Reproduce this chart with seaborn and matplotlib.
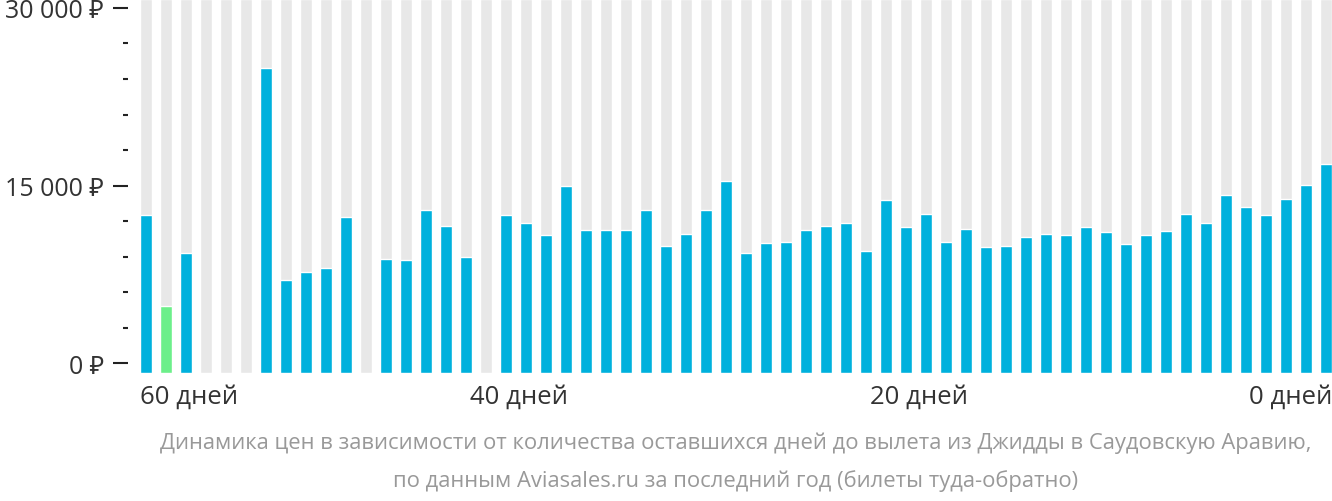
import numpy as np
import pandas as pd
import seaborn as sns
import matplotlib
matplotlib.use('Agg')
import matplotlib.pyplot as plt
from matplotlib.ticker import MultipleLocator

# days before departure, left -> right
days = list(range(59, -1, -1))
nan = np.nan
prices = [12500, 4800, 9270, nan, nan, nan, 24900, 7000, 7670, 8000,
          12300, nan, 8760, 8680, 12900, 11550, 8930, nan, 12470, 11800,
          10790, 15000, 11210, 11210, 11210, 12890, 9860, 10870, 12890, 15340,
          9270, 10110, 10200, 11210, 11550, 11800, 9440, 13740, 11460, 12560,
          10200, 11290, 9780, 9860, 10620, 10870, 10790, 11460, 11040, 10030,
          10790, 11120, 12560, 11800, 14240, 13150, 12470, 13900, 15080, 16850]
ytick_vals = [0, 15000, 30000]
ytick_labels = ['0 ₽', '15 000 ₽', '30 000 ₽']
xtick_labels = ['60 дней', '40 дней', '20 дней', '0 дней']
caption = ['Динамика цен в зависимости от количества оставшихся дней до вылета из Джидды в Саудовскую Аравию,',
           'по данным Aviasales.ru за последний год (билеты туда-обратно)']

BLUE = '#00b1dd'
GREEN = '#6cef8a'
GREY = '#e8e8e8'

sns.set_style('white')
plt.rcParams['font.family'] = ['Open Sans', 'Noto Sans', 'DejaVu Sans']

df = pd.DataFrame({'day': days, 'price': prices})
df['label'] = df['day'].astype(str)
df['kind'] = np.where(df['price'] == df['price'].min(), 'min', 'normal')
order = df['label'].tolist()
valid = df.dropna()

W, H = 1332, 502
fig = plt.figure(figsize=(W / 100, H / 100), dpi=100)
ax = fig.add_axes([140 / W, 1 - 374 / H, 1192 / W, 374 / H])

ybot, ytop = -843, 30760
sns.barplot(data=valid, x='label', y='price', order=order, hue='kind',
            palette={'normal': BLUE, 'min': GREEN}, width=0.6, dodge=False,
            saturation=1, legend=False, ax=ax, zorder=2)
# bars start a bit below zero, like the original
for p in ax.patches:
    p.set_y(ybot)
    p.set_height(p.get_height() - ybot)

ax.bar(range(len(days)), ytop - ybot, bottom=ybot, width=0.6, color=GREY, zorder=1)

ax.set_xlim(-0.3, len(days) - 0.7)
ax.set_ylim(ybot, ytop)
for s in ax.spines.values():
    s.set_visible(False)
ax.spines['left'].set_position(('outward', 9))

ax.set_yticks(ytick_vals)
ax.set_yticklabels(ytick_labels)
ax.yaxis.set_minor_locator(MultipleLocator(3000))
ax.tick_params(axis='y', which='major', length=10.5, width=1.5, color='#222222',
               pad=6.5, labelsize=18, labelcolor='#333333', left=True)
ax.tick_params(axis='y', which='minor', length=3.8, width=1.5, color='#222222', left=True)

ax.set_xticks([-0.3, 18.65, 38.65, len(days) - 0.7])
ax.set_xticklabels(xtick_labels)
ax.tick_params(axis='x', length=0, pad=8, labelsize=18.5, labelcolor='#333333')
for t, ha in zip(ax.get_xticklabels(), ['left', 'center', 'center', 'right']):
    t.set_ha(ha)
ax.set_xlabel('')
ax.set_ylabel('')

fig.text(736 / W, 1 - 443 / H, caption[0], ha='center', va='center', color='#999999', fontsize=15.8)
fig.text(736 / W, 1 - 481 / H, caption[1], ha='center', va='center', color='#999999', fontsize=15.8)

fig.savefig('out.png', dpi=100)
